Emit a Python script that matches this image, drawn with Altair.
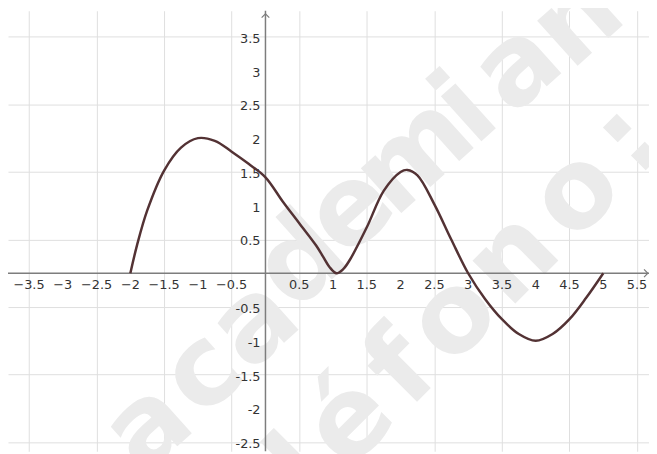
import altair as alt
import pandas as pd

# Curve
curve_x = [-2.0, -1.9, -1.75, -1.5, -1.25, -1.0, -0.75, -0.5, -0.25, 0.0, 0.25, 0.5, 0.75, 0.85,
           0.95, 1.05, 1.15, 1.25, 1.5, 1.75, 2.0, 2.1, 2.25, 2.5, 2.75, 3.0, 3.25, 3.5, 3.75, 4.0,
           4.25, 4.5, 4.75, 5.0]
curve_y = [0.0, 0.42, 0.93, 1.52, 1.86, 2.0, 1.96, 1.8, 1.62, 1.42, 1.07, 0.74, 0.41, 0.25,
           0.09, 0.0, 0.06, 0.2, 0.68, 1.22, 1.5, 1.53, 1.45, 1.02, 0.5, 0.0, -0.38, -0.68, -0.9, -1.0,
           -0.9, -0.68, -0.36, 0.0]

# Grid / tick values
grid_x = [-3.5, -3, -2.5, -2, -1.5, -1, -0.5, 0, 0.5, 1, 1.5, 2, 2.5, 3, 3.5, 4, 4.5, 5, 5.5]
grid_y = [-2.5, -2, -1.5, -1, -0.5, 0, 0.5, 1, 1.5, 2, 2.5, 3, 3.5]

x_tick_vals = [-3.5, -3, -2.5, -2, -1.5, -1, -0.5, 0.5, 1, 1.5, 2, 2.5, 3, 3.5, 4, 4.5, 5, 5.5]
x_tick_text = ["\u22123.5", "\u22123", "\u22122.5", "\u22122", "\u22121.5", "\u22121", "\u22120.5",
               "0.5", "1", "1.5", "2", "2.5", "3", "3.5", "4", "4.5", "5", "5.5"]
y_tick_vals = [-2.5, -2, -1.5, -1, -0.5, 0.5, 1, 1.5, 2, 2.5, 3, 3.5]
y_tick_text = ["-2.5", "-2", "-1.5", "-1", "-0.5", "0.5", "1", "1.5", "2", "2.5", "3", "3.5"]

# Watermark letters (positions, in data units)
wm1_chars = ["a", "c", "a", "d", "e", "m", "i", "a", "n"]
wm1_x = [-1.74, -0.93, -0.16, 0.53, 1.26, 2.21, 2.97, 3.73, 4.62]
wm1_y = [-2.28, -1.48, -0.75, 0.17, 0.93, 1.74, 2.42, 3.05, 3.74]
wm2_chars = ["l", "é", "f", "o", "n", "o", ":"]
wm2_x = [0.55, 1.25, 2.02, 2.78, 3.66, 4.60, 5.38]
wm2_y = [-2.92, -2.20, -1.42, -0.66, 0.22, 1.18, 1.98]

X_DOMAIN = [-3.811, 5.677]
Y_DOMAIN = [-2.635, 3.886]

xs = alt.Scale(domain=X_DOMAIN, nice=False, zero=False)
ys = alt.Scale(domain=Y_DOMAIN, nice=False, zero=False)

AXIS_COLOR = "#7d7d7d"
LABEL_COLOR = "#333333"
CURVE_COLOR = "#533234"
WM_COLOR = "#ebebeb"
GRID_COLOR = "#dedede"

curve_df = pd.DataFrame({"x": curve_x, "y": curve_y})

# Base layer providing grid lines
grid_layer = alt.Chart(curve_df).mark_line(opacity=0).encode(
    x=alt.X("x:Q", scale=xs,
            axis=alt.Axis(values=grid_x, grid=True, labels=False, ticks=False, domain=False,
                          title=None, gridColor=GRID_COLOR, gridWidth=1)),
    y=alt.Y("y:Q", scale=ys,
            axis=alt.Axis(values=grid_y, grid=True, labels=False, ticks=False, domain=False,
                          title=None, gridColor=GRID_COLOR, gridWidth=1)),
)

wm1 = alt.Chart(pd.DataFrame({"t": wm1_chars, "x": wm1_x, "y": wm1_y})).mark_text(
    font="DejaVu Sans", fontWeight="bold", fontSize=112, angle=318,
    align="center", baseline="middle", color=WM_COLOR
).encode(x=alt.X("x:Q", scale=xs), y=alt.Y("y:Q", scale=ys), text="t:N")

wm2 = alt.Chart(pd.DataFrame({"t": wm2_chars, "x": wm2_x, "y": wm2_y})).mark_text(
    font="DejaVu Sans", fontWeight="bold", fontSize=112, angle=315,
    align="center", baseline="middle", color=WM_COLOR
).encode(x=alt.X("x:Q", scale=xs), y=alt.Y("y:Q", scale=ys), text="t:N")

zero_df = pd.DataFrame({"v": [0.0]})
x_axis_line = alt.Chart(zero_df).mark_rule(color=AXIS_COLOR, strokeWidth=1.5).encode(
    y=alt.Y("v:Q", scale=ys)
)
y_axis_line = alt.Chart(zero_df).mark_rule(color=AXIS_COLOR, strokeWidth=1.5).encode(
    x=alt.X("v:Q", scale=xs)
)

up_arrow = alt.Chart(pd.DataFrame({"x": [0.0], "y": [3.84]})).mark_point(
    shape="M -1 1 L 0 0 L 1 1", filled=False, size=60, color=AXIS_COLOR,
    strokeWidth=1.2, opacity=1
).encode(x=alt.X("x:Q", scale=xs), y=alt.Y("y:Q", scale=ys))

right_arrow = alt.Chart(pd.DataFrame({"x": [5.66], "y": [0.0]})).mark_point(
    shape="M -1 -1 L 0 0 L -1 1", filled=False, size=60, color=AXIS_COLOR,
    strokeWidth=1.2, opacity=1
).encode(x=alt.X("x:Q", scale=xs), y=alt.Y("y:Q", scale=ys))

x_labels = alt.Chart(pd.DataFrame({"x": x_tick_vals, "t": x_tick_text, "y": [0.0] * len(x_tick_vals)})).mark_text(
    font="DejaVu Sans", fontSize=13, color=LABEL_COLOR, align="center", baseline="middle", dy=12
).encode(x=alt.X("x:Q", scale=xs), y=alt.Y("y:Q", scale=ys), text="t:N")

y_labels = alt.Chart(pd.DataFrame({"y": y_tick_vals, "t": y_tick_text, "x": [0.0] * len(y_tick_vals)})).mark_text(
    font="DejaVu Sans", fontSize=13, color=LABEL_COLOR, align="right", baseline="middle", dx=-5, dy=2
).encode(x=alt.X("x:Q", scale=xs), y=alt.Y("y:Q", scale=ys), text="t:N")

curve = alt.Chart(curve_df).mark_line(
    color=CURVE_COLOR, strokeWidth=2.5, interpolate="catmull-rom"
).encode(x=alt.X("x:Q", scale=xs), y=alt.Y("y:Q", scale=ys))

chart = alt.layer(
    grid_layer, wm1, wm2, x_axis_line, y_axis_line, up_arrow, right_arrow,
    x_labels, y_labels, curve
).properties(
    width=649, height=446, padding=0, autosize=alt.AutoSizeParams(type="none"),
    background="white"
).configure_view(strokeWidth=0)

chart.save("out.html", embed_options={"renderer": "svg", "actions": False})
